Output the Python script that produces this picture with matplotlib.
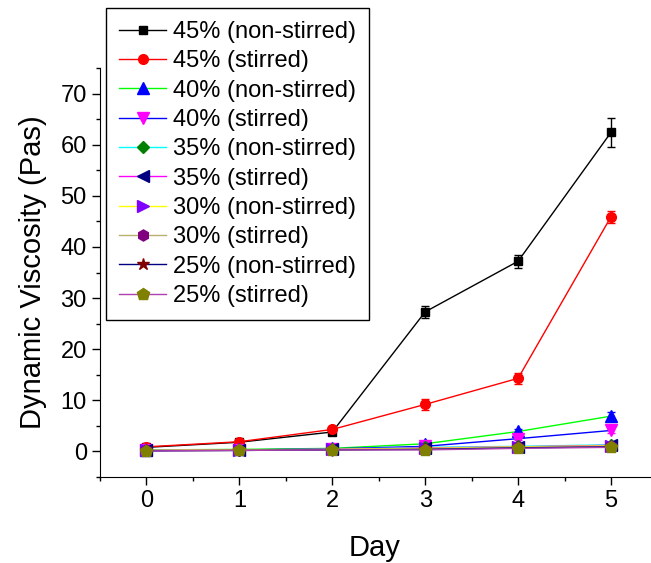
import matplotlib
matplotlib.use("Agg")
import matplotlib.pyplot as plt
from matplotlib.lines import Line2D
import numpy as np

plt.rcParams['font.family'] = ['Liberation Sans', 'DejaVu Sans']

days = [0, 1, 2, 3, 4, 5]

labels = [
    '45% (non-stirred)', '45% (stirred)',
    '40% (non-stirred)', '40% (stirred)',
    '35% (non-stirred)', '35% (stirred)',
    '30% (non-stirred)', '30% (stirred)',
    '25% (non-stirred)', '25% (stirred)',
]

v45_ns = [0.8, 1.8, 3.8, 27.3, 37.2, 62.4]
e45_ns = [0.3, 0.3, 0.5, 1.2, 1.3, 2.8]
v45_s = [0.9, 1.9, 4.3, 9.2, 14.3, 45.9]
e45_s = [0.3, 0.3, 0.4, 1.1, 1.1, 1.2]
v40_ns = [0.3, 0.4, 0.6, 1.5, 3.9, 6.9]
e40_ns = [0.1, 0.1, 0.1, 0.3, 0.5, 0.8]
v40_s = [0.2, 0.3, 0.5, 1.0, 2.5, 4.1]
e40_s = [0.1, 0.1, 0.1, 0.2, 0.3, 0.4]
v35_ns = [0.2, 0.3, 0.4, 0.8, 1.0, 1.3]
v35_s = [0.2, 0.3, 0.4, 0.7, 0.9, 1.2]
v30_ns = [0.2, 0.3, 0.4, 0.6, 0.9, 1.1]
v30_s = [0.2, 0.2, 0.3, 0.5, 0.8, 1.0]
v25_ns = [0.1, 0.2, 0.3, 0.4, 0.7, 0.9]
v25_s = [0.1, 0.2, 0.3, 0.3, 0.6, 0.8]

values = [v45_ns, v45_s, v40_ns, v40_s, v35_ns, v35_s, v30_ns, v30_s, v25_ns, v25_s]
errors = [e45_ns, e45_s, e40_ns, e40_s, None, None, None, None, None, None]

line_colors = ['black', 'red', '#00ff00', '#0000ff', '#00ffff',
               '#ff00ff', '#ffff00', '#b8b070', '#000080', '#b040b0']
marker_colors = ['black', 'red', '#0000ff', '#ff00ff', '#008000',
                 '#000080', '#8000ff', '#800080', '#800000', '#808000']
markers = ['s', 'o', '^', 'v', 'D', '<', '>', 'h', '*', 'p']
msizes = [6, 7, 8, 8, 6, 8, 8, 8, 9, 9]

fig = plt.figure(figsize=(6.51, 5.63), dpi=100)
ax = fig.add_axes([100 / 651, 86 / 563, 550 / 651, 409 / 563])

# origin-style: line colour and symbol colour differ
handles = []
for i in range(len(values)):
    ax.errorbar(days, values[i], yerr=errors[i], color=line_colors[i], lw=1,
                marker=markers[i], ms=msizes[i], mfc=marker_colors[i],
                mec=marker_colors[i], ecolor=marker_colors[i],
                elinewidth=1, capsize=3, capthick=1)
    handles.append(Line2D([], [], color=line_colors[i], lw=1,
                          marker=markers[i], ms=msizes[i],
                          mfc=marker_colors[i], mec=marker_colors[i],
                          label=labels[i]))

ax.set_xlim(-0.5, 5.42)
ax.set_ylim(-5, 75)
ax.set_xticks(days)
ax.set_xticks(np.arange(-0.5, 5.5, 0.5), minor=True)
ax.set_yticks(np.arange(0, 71, 10))
ax.set_yticks(np.arange(-5, 76, 5), minor=True)
for s in ['top', 'right']:
    ax.spines[s].set_visible(False)
ax.tick_params(axis='both', which='major', direction='out', length=6,
               labelsize=17, width=1)
ax.tick_params(axis='both', which='minor', direction='out', length=3, width=1)
ax.set_xlabel('Day', fontsize=21, labelpad=16)
ax.set_ylabel('Dynamic Viscosity (Pas)', fontsize=21, labelpad=10)

leg = fig.legend(handles=handles, loc='upper left',
                 bbox_to_anchor=(106 / 651, 1 - 8 / 563),
                 bbox_transform=fig.transFigure, fontsize=17,
                 frameon=True, fancybox=False, edgecolor='black',
                 handlelength=2.0, labelspacing=0.31, borderaxespad=0,
                 borderpad=0.55, handletextpad=0.3, framealpha=1)
leg.get_frame().set_linewidth(1)

fig.savefig('out.png', dpi=100)
